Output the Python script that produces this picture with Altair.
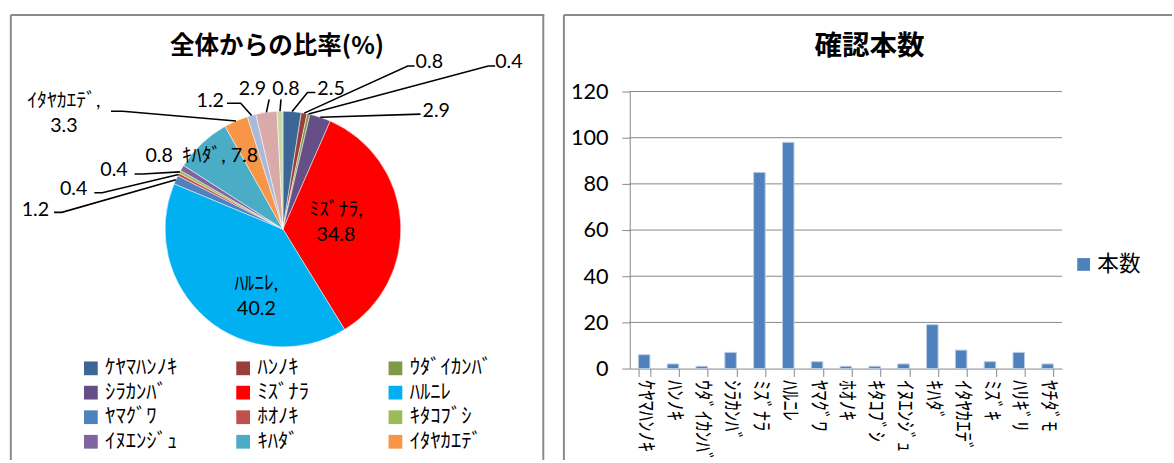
import math
import altair as alt
import pandas as pd

# ---------------- data ----------------
species = ["ｹﾔﾏﾊﾝﾉｷ", "ﾊﾝﾉｷ", "ｳﾀﾞｲｶﾝﾊﾞ", "ｼﾗｶﾝﾊﾞ", "ﾐｽﾞﾅﾗ", "ﾊﾙﾆﾚ", "ﾔﾏｸﾞﾜ",
           "ﾎｵﾉｷ", "ｷﾀｺﾌﾞｼ", "ｲﾇｴﾝｼﾞｭ", "ｷﾊﾀﾞ", "ｲﾀﾔｶｴﾃﾞ", "ﾐｽﾞｷ", "ﾊﾘｷﾞﾘ", "ﾔﾁﾀﾞﾓ"]
counts = [6, 2, 1, 7, 85, 98, 3, 1, 1, 2, 19, 8, 3, 7, 2]
ratios = [2.5, 0.8, 0.4, 2.9, 34.8, 40.2, 1.2, 0.4, 0.4, 0.8, 7.8, 3.3, 1.2, 2.9, 0.8]
y_ticks = [0, 20, 40, 60, 80, 100, 120]

slice_colors = ["#3C6696", "#9A3E3B", "#7E9A48", "#654F86", "#FF0000", "#00B0F0",
                "#4F81BD", "#C0504D", "#9BBB59", "#8064A2", "#4BACC6", "#F79646",
                "#A9BAD9", "#D9AAA9", "#C9DAAA"]
bar_color = "#4F81BD"

# Excel legend shows the first 12 entries, 3 per row (row-major).
# Vega fills legend columns top-to-bottom, so list them column by column.
LEG_N, LEG_COLS = 12, 3
legend_rows = LEG_N // LEG_COLS
legend_species = [species[r * LEG_COLS + c] for c in range(LEG_COLS) for r in range(legend_rows)]

# ---------------- styling / layout ----------------
NUM = "Lato, 'Noto Sans CJK JP', sans-serif"
JP = "'Noto Sans CJK JP', sans-serif"
AX = "#868686"
BORDER = "#8a8a8a"
LW, RW, H = 544, 615, 454

# pie geometry (pixel coordinates of the left panel, absolute)
CX, CY, R = 287, 228, 120

# data labels: Excel shows the category name for some slices
name_sep = {4: ",\n", 5: ",\n", 10: ", ", 11: ",\n"}
# manual label placements (as dragged in the original Excel chart); first line position
label_xy = {0: (336, 86), 1: (436, 58), 2: (517, 58), 3: (443, 108), 4: (341, 209),
            5: (260, 284), 6: (35, 209), 7: (74, 187), 8: (115, 168), 9: (161, 154),
            10: (223, 154), 11: (64, 98), 12: (213, 98), 13: (256, 86), 14: (290, 86)}
leader_pts = {0: [(312, 89), (320, 89)], 1: [(414, 62), (421, 62)], 2: [(496, 62), (503, 62)],
              3: [(427, 111)], 6: [(62, 211), (54, 211)], 7: [(103, 191), (95, 191)],
              8: [(144, 172), (136, 172)], 11: [(124, 108), (112, 108)],
              12: [(244, 100), (230, 100)], 13: [(273, 96)], 14: [(285, 96)]}

# ---------------- left panel: pie ----------------
pie_df = pd.DataFrame({"species": species, "ratio": ratios, "idx": list(range(len(species)))})

total = sum(ratios)
mid_angle = []
acc = 0.0
for r in ratios:
    mid_angle.append((acc + r / 2) / total * 2 * math.pi)
    acc += r

lab_rows = []
for i, (x, y) in label_xy.items():
    val = f"{ratios[i]:.1f}"
    txt = species[i] + name_sep[i] + val if i in name_sep else val
    lab_rows.append({"x": x, "y": y, "label": txt})
lab_df = pd.DataFrame(lab_rows)

lead_rows = []
for i, pts in leader_pts.items():
    a = mid_angle[i]
    sx, sy = CX + R * math.sin(a), CY - R * math.cos(a)
    seq = [(sx, sy)] + pts
    for k, (px, py) in enumerate(seq):
        lead_rows.append({"id": i, "k": k, "x": px, "y": py})
lead_df = pd.DataFrame(lead_rows)

xs = alt.Scale(domain=[9, 9 + LW], range=[0, LW], zero=False, nice=False)
ys = alt.Scale(domain=[9, 9 + H], range=[0, H], zero=False, nice=False)

pie = alt.Chart(pie_df).mark_arc(outerRadius=R, stroke="white", strokeWidth=0.5).encode(
    theta=alt.Theta("ratio:Q", stack=True),
    order=alt.Order("idx:Q"),
    color=alt.Color(
        "species:N",
        scale=alt.Scale(domain=species, range=slice_colors),
        legend=alt.Legend(
            title=None, orient="none", legendX=72, legendY=350, columns=LEG_COLS,
            values=legend_species, symbolType="square", symbolSize=196,
            symbolStrokeWidth=0, labelFont=JP, labelFontSize=21, labelColor="black",
            labelOffset=4, columnPadding=46, rowPadding=3, gridAlign="all",
            labelLimit=300, padding=0,
        ),
    ),
    x=alt.X(datum=CX, type="quantitative", scale=xs, axis=None),
    y=alt.Y(datum=CY, type="quantitative", scale=ys, axis=None),
)

leaders = alt.Chart(lead_df).mark_line(color="black", strokeWidth=1.6).encode(
    x=alt.X("x:Q", scale=xs, axis=None),
    y=alt.Y("y:Q", scale=ys, axis=None),
    detail="id:N",
    order="k:Q",
)

labels = alt.Chart(lab_df).mark_text(
    font=NUM, fontSize=20, color="black", align="center", baseline="middle",
    lineBreak="\n", lineHeight=25,
).encode(
    x=alt.X("x:Q", scale=xs, axis=None),
    y=alt.Y("y:Q", scale=ys, axis=None),
    text="label:N",
)

one = pd.DataFrame({"a": [0]})
left_title = alt.Chart(one).mark_text(
    text="全体からの比率(%)", font=JP, fontSize=25, fontWeight="bold", color="black",
    align="center", baseline="middle",
).encode(x=alt.value(272), y=alt.value(33))

def frame(width, right_side):
    parts = [
        alt.Chart(one).mark_rule(color=BORDER, strokeWidth=2).encode(
            x=alt.value(1), x2=alt.value(width), y=alt.value(1)),
        alt.Chart(one).mark_rule(color=BORDER, strokeWidth=2).encode(
            x=alt.value(1), y=alt.value(1), y2=alt.value(H)),
    ]
    if right_side:
        parts.append(alt.Chart(one).mark_rule(color=BORDER, strokeWidth=2).encode(
            x=alt.value(width - 1), y=alt.value(1), y2=alt.value(H)))
    return parts

left = alt.layer(*frame(LW, True), pie, leaders, labels, left_title).properties(
    width=LW, height=H)

# ---------------- right panel: bars ----------------
bar_df = pd.DataFrame({"species": species, "count": counts, "series": ["本数"] * len(species)})
grid_df = pd.DataFrame({"count": y_ticks[1:]})

yscale = alt.Scale(domain=[0, 120], range=[361, 79], nice=False, zero=True)
yaxis = alt.Axis(title=None, values=y_ticks, offset=-68, tickSize=8, labelPadding=14,
                 labelFont=NUM, labelFontSize=22, labelColor="black", domainColor=AX,
                 tickColor=AX, grid=False, labelFlush=False)

bars = alt.Chart(bar_df).mark_bar(stroke="#B9CDE5", strokeWidth=1).encode(
    x=alt.X("species:N", sort=species,
            scale=alt.Scale(range=[68, 508], paddingInner=0.6, paddingOuter=0.3),
            axis=alt.Axis(title=None, orient="bottom", offset=-93, labelAngle=90,
                          labelAlign="left", labelBaseline="middle", labelFont=JP,
                          labelFontSize=21, labelColor="black", labelPadding=3,
                          tickBand="extent", tickSize=8, tickColor=AX, domainColor=AX,
                          labelLimit=200)),
    y=alt.Y("count:Q", scale=yscale, axis=yaxis),
    color=alt.Color("series:N", scale=alt.Scale(range=[bar_color]),
                    legend=alt.Legend(title=None, orient="none", legendX=519, legendY=244,
                                      symbolType="square", symbolSize=169,
                                      symbolStrokeWidth=0, labelFont=JP, labelFontSize=22,
                                      labelColor="black", labelOffset=3, padding=0)),
)

grid = alt.Chart(grid_df).mark_rule(color=AX, strokeWidth=1).encode(
    y=alt.Y("count:Q", scale=yscale, axis=yaxis),
    x=alt.value(68), x2=alt.value(508),
)

right_title = alt.Chart(one).mark_text(
    text="確認本数", font=JP, fontSize=28, fontWeight="bold", color="black",
    align="center", baseline="middle",
).encode(x=alt.value(312), y=alt.value(34))

right = alt.layer(*frame(RW + 5, False), grid, bars, right_title).properties(
    width=RW, height=H)

chart = (
    alt.hconcat(left, right, spacing=6)
    .resolve_scale(color="independent", x="independent", y="independent")
    .properties(padding={"left": 9, "top": 9, "right": 0, "bottom": 0}, background="white")
    .configure_view(stroke="transparent")
)

chart.save("out.html", embed_options={"renderer": "svg", "actions": False})
